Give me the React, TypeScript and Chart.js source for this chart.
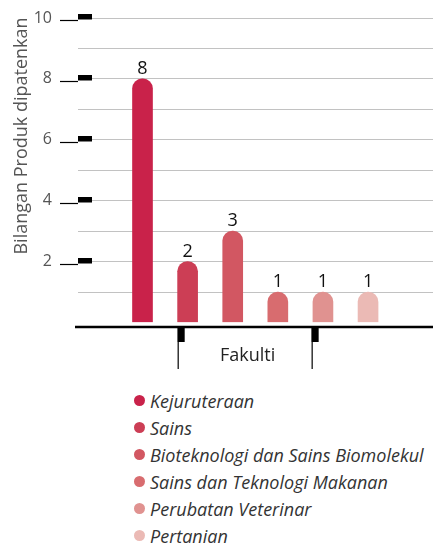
import React, { useEffect, useRef } from "react";
import { Chart, registerables } from "chart.js";

Chart.register(...registerables);

const faculties = [
  "Kejuruteraan",
  "Sains",
  "Bioteknologi dan Sains Biomolekul",
  "Sains dan Teknologi Makanan",
  "Perubatan Veterinar",
  "Pertanian",
];
const patentCounts = [8, 2, 3, 1, 1, 1];
const barColors = ["#c9224a", "#cc3e55", "#d25762", "#d86c6f", "#e09290", "#ebbab5"];
const yTickValues = [2, 4, 6, 8, 10];
const yAxisTitle = "Bilangan Produk dipatenkan";
const xAxisTitle = "Fakulti";
const xAxisMarks = [0.78, 3.75];

const FONT = '"Open Sans", "Noto Sans", sans-serif';

const decoPlugin = {
  id: "deco",
  afterDatasetsDraw(chart: any) {
    const { ctx, chartArea, scales } = chart;
    const ys = scales.y;
    const xs = scales.x;
    ctx.save();
    // y-axis black marks
    ctx.fillStyle = "#000";
    ctx.strokeStyle = "#000";
    yTickValues.forEach((v) => {
      const y = Math.round(ys.getPixelForValue(v));
      ctx.fillRect(chartArea.left, y - 4, 14, 5.5);
      ctx.lineWidth = 1.2;
      ctx.beginPath();
      ctx.moveTo(chartArea.left - 18, y + 2.5);
      ctx.lineTo(chartArea.left, y + 2.5);
      ctx.stroke();
    });
    // x axis line
    const axY = chartArea.bottom + 4.5;
    ctx.lineWidth = 2.5;
    ctx.beginPath();
    ctx.moveTo(chartArea.left - 3, axY);
    ctx.lineTo(chart.width, axY);
    ctx.stroke();
    // x marks
    const px = xAxisMarks.map((m) => xs.getPixelForValue(m));
    px.forEach((x) => {
      ctx.fillRect(x, axY, 7, 15);
      ctx.lineWidth = 1.2;
      ctx.beginPath();
      ctx.moveTo(x + 0.5, axY);
      ctx.lineTo(x + 0.5, axY + 42);
      ctx.stroke();
    });
    // x title
    ctx.fillStyle = "#222";
    ctx.font = `18px ${FONT}`;
    ctx.textAlign = "center";
    ctx.textBaseline = "middle";
    ctx.fillText(xAxisTitle, (px[0] + px[1]) / 2 + 3, axY + 29);
    // y title
    ctx.save();
    ctx.translate(22, chartArea.top + 118);
    ctx.rotate(-Math.PI / 2);
    ctx.fillStyle = "#555";
    ctx.font = `18px ${FONT}`;
    ctx.textAlign = "center";
    ctx.textBaseline = "middle";
    ctx.fillText(yAxisTitle, 0, 0);
    ctx.restore();
    // value labels
    const meta = chart.getDatasetMeta(0);
    ctx.fillStyle = "#111";
    ctx.font = `18px ${FONT}`;
    ctx.textAlign = "center";
    ctx.textBaseline = "alphabetic";
    meta.data.forEach((bar: any, i: number) => {
      ctx.fillText(String(patentCounts[i]), bar.x, bar.y - 5);
    });
    ctx.restore();
  },
};

export default function App() {
  const canvasRef = useRef<HTMLCanvasElement>(null);

  useEffect(() => {
    if (!canvasRef.current) return;
    const chart = new Chart(canvasRef.current, {
      type: "bar",
      data: {
        datasets: [
          {
            data: patentCounts.map((v, i) => ({ x: i, y: v })),
            backgroundColor: barColors,
            borderColor: "#ffffff",
            borderWidth: 0,
            barThickness: 20,
            borderRadius: { topLeft: 10, topRight: 10, bottomLeft: 0, bottomRight: 0 },
            borderSkipped: false,
          } as any,
        ],
      },
      options: {
        animation: false,
        responsive: false,
        maintainAspectRatio: false,
        layout: { padding: { top: 18, bottom: 57.5, left: 0, right: 0 } },
        plugins: { legend: { display: false }, tooltip: { enabled: false } },
        scales: {
          x: {
            type: "linear",
            min: -1.43,
            max: 6.44,
            offset: false,
            display: false,
          },
          y: {
            min: 0,
            max: 10,
            afterFit(scale: any) {
              scale.width = 78;
              scale.paddingTop = 0;
              scale.paddingBottom = 0;
            },
            border: { display: false },
            grid: {
              drawTicks: false,
              color: (c: any) => (c.tick && c.tick.value === 0 ? "rgba(0,0,0,0)" : "#c2c2c2"),
              lineWidth: 1,
            },
            ticks: {
              stepSize: 1,
              padding: 26,
              color: "#555",
              font: { family: FONT, size: 16 },
              callback: (v: any) => (yTickValues.includes(Number(v)) ? String(v) : ""),
            },
          },
        },
      },
      plugins: [decoPlugin],
    });
    return () => chart.destroy();
  }, []);

  return (
    <div style={{ position: "absolute", left: 0, top: 0, width: 433, height: 545, background: "#fff" }}>
      <canvas ref={canvasRef} width={433} height={380} style={{ display: "block" }} />
      <div style={{ position: "absolute", left: 134, top: 387 }}>
        {faculties.map((f, i) => (
          <div
            key={f}
            style={{
              height: 27,
              display: "flex",
              alignItems: "center",
              font: `italic 18px ${FONT}`,
              color: "#333",
              whiteSpace: "nowrap",
            }}
          >
            <span
              style={{
                display: "inline-block",
                width: 11,
                height: 11,
                borderRadius: "50%",
                background: barColors[i],
                marginRight: 5,
              }}
            />
            {f}
          </div>
        ))}
      </div>
    </div>
  );
}
